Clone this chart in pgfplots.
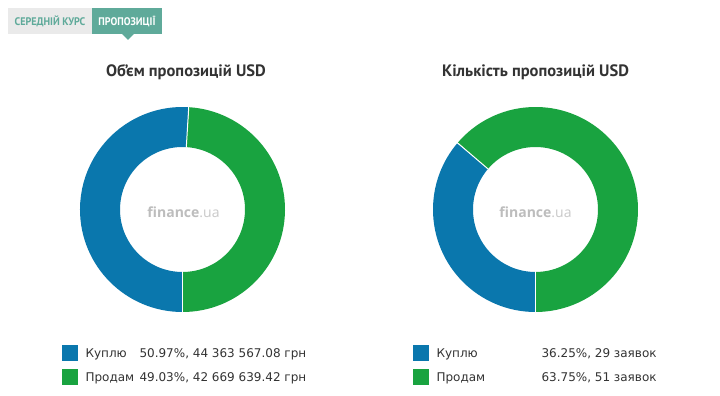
\documentclass[border=0pt]{standalone}
\usepackage{fontspec}
\setmainfont{DejaVu Sans}
\newfontfamily\titlefont{PT Sans}
\newfontfamily\logofont{Open Sans}
\usepackage{pgfplots}
\usepackage{pgfplotstable}
\pgfplotsset{compat=1.18}
\definecolor{buyC}{HTML}{0A77AD}
\definecolor{sellC}{HTML}{19A340}
\definecolor{tabteal}{HTML}{5FAA9A}
\definecolor{tabgray}{HTML}{EAEAEA}
\definecolor{txt}{HTML}{333333}

\pgfplotstableread{
series value
buy 50.97
sell 49.03
}\volumetable
\pgfplotstableread{
series value
buy 36.25
sell 63.75
}\counttable

\pgfplotstablegetelem{0}{value}\of\volumetable \let\volBuy\pgfplotsretval
\pgfplotstablegetelem{0}{value}\of\counttable \let\cntBuy\pgfplotsretval
\pgfmathsetmacro\volEnd{-90-3.6*\volBuy}
\pgfmathsetmacro\cntEnd{-90-3.6*\cntBuy}

\newcommand\donut[1]{%
  \draw[line width=40pt,buyC] (axis cs:0,0) ++(-90:82.5pt) arc[start angle=-90,end angle=#1,radius=82.5pt];
  \draw[line width=40pt,sellC] (axis cs:0,0) ++(#1:82.5pt) arc[start angle=#1,end angle=-450,radius=82.5pt];
  \draw[white,line width=1pt] (axis cs:0,0) ++(-90:62pt) -- ++(-90:41pt);
  \draw[white,line width=1pt] (axis cs:0,0) ++(#1:62pt) -- ++(#1:41pt);
}

\begin{document}
\begin{tikzpicture}
\path[use as bounding box,fill=white] (0,0) rectangle (720pt,396pt);
% tabs
\fill[tabgray] (8pt,362pt) rectangle (92pt,388pt);
\fill[tabteal] (92pt,362pt) rectangle (162pt,388pt);
\fill[tabteal] (122pt,362pt) -- (134pt,362pt) -- (128pt,356pt) -- cycle;
\node[text=tabteal,font=\titlefont\bfseries\fontsize{11}{13}\selectfont,xscale=0.92] at (50pt,375pt) {СЕРЕДНІЙ КУРС};
\node[text=white,font=\titlefont\bfseries\fontsize{11}{13}\selectfont,xscale=0.92] at (127pt,375pt) {ПРОПОЗИЦІЇ};
% titles
\node[text=txt,font=\titlefont\bfseries\fontsize{16.5}{20}\selectfont] at (186pt,324pt) {Об’єм пропозицій USD};
\node[text=txt,font=\titlefont\bfseries\fontsize{16.5}{20}\selectfont] at (535.5pt,324pt) {Кількість пропозицій USD};
% donut 1
\begin{axis}[at={(182.5pt,186.5pt)},anchor=center,x=1pt,y=1pt,
  xmin=-110,xmax=110,ymin=-110,ymax=110,hide axis,clip=false]
\donut{\volEnd}
\node[font=\logofont\fontsize{14}{16}\selectfont] at (axis cs:1,-3) {\textcolor[HTML]{BDBDBD}{\bfseries finance}\textcolor[HTML]{C9C9C9}{.ua}};
\end{axis}
% donut 2
\begin{axis}[at={(535.5pt,186.5pt)},anchor=center,x=1pt,y=1pt,
  xmin=-110,xmax=110,ymin=-110,ymax=110,hide axis,clip=false]
\donut{\cntEnd}
\node[font=\logofont\fontsize{14}{16}\selectfont] at (axis cs:0,-3) {\textcolor[HTML]{BDBDBD}{\bfseries finance}\textcolor[HTML]{C9C9C9}{.ua}};
\end{axis}
% legends
\begin{scope}[every node/.style={text=txt,font=\fontsize{12}{14}\selectfont,anchor=west}]
\fill[buyC] (62pt,35pt) rectangle (78pt,51pt);
\fill[sellC] (62pt,11pt) rectangle (78pt,27pt);
\node at (82pt,42pt) {Куплю};
\node at (82pt,18pt) {Продам};
\node at (136pt,42pt) {50.97\%, 44 363 567.08 грн};
\node at (136pt,18pt) {49.03\%, 42 669 639.42 грн};
\fill[buyC] (413pt,35pt) rectangle (429pt,51pt);
\fill[sellC] (413pt,11pt) rectangle (429pt,27pt);
\node at (433pt,42pt) {Куплю};
\node at (433pt,18pt) {Продам};
\node at (538pt,42pt) {36.25\%, 29 заявок};
\node at (538pt,18pt) {63.75\%, 51 заявок};
\end{scope}
\end{tikzpicture}
\end{document}
